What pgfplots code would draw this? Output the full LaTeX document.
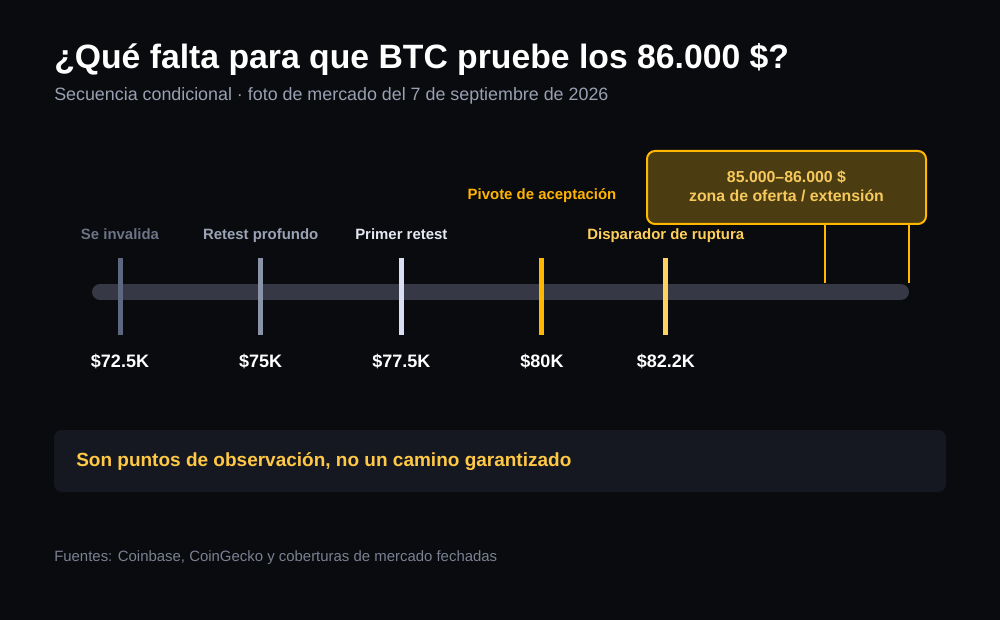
\documentclass[border=0pt]{standalone}
\usepackage{pgfplots}
\pgfplotsset{compat=1.18}
\usepackage{fontspec}
\setmainfont{Liberation Sans}
\definecolor{bg}{HTML}{0A0B0E}
\definecolor{panel}{HTML}{161821}
\definecolor{track}{HTML}{363945}
\definecolor{lvA}{HTML}{5E6780}
\definecolor{lvB}{HTML}{8A93A8}
\definecolor{lvC}{HTML}{D9DEF2}
\definecolor{lvD}{HTML}{FFB700}
\definecolor{lvE}{HTML}{FFD25E}
\definecolor{labA}{HTML}{6B7386}
\definecolor{labB}{HTML}{9AA2B5}
\definecolor{labC}{HTML}{E6E9F3}
\definecolor{labD}{HTML}{FFB400}
\definecolor{labE}{HTML}{FFCF5C}
\definecolor{zonefill}{HTML}{4B3C12}
\definecolor{zonetext}{HTML}{F7C95C}
\definecolor{calltext}{HTML}{FFC845}
\definecolor{subt}{HTML}{98A0B2}
\definecolor{foot}{HTML}{7A8192}
\newcommand{\fpx}[1]{\fontsize{#1}{#1}\selectfont}
\begin{document}
\begin{tikzpicture}[x=0.75pt,y=-0.75pt]
% background
\fill[bg] (0,0) rectangle (1000,620);
% title & subtitle
\node[anchor=base west,inner sep=0,text=white] at (54,69) {\fpx{25.3pt}\bfseries ¿Qué falta para que BTC pruebe los 86.000 \$?};
\node[anchor=base west,inner sep=0,text=subt] at (54,100.5) {\fpx{13.4pt}Secuencia condicional · foto de mercado del 7 de septiembre de 2026};
% zone box
\draw[lvD,line width=1.5pt,fill=zonefill,rounded corners=6pt] (647,151) rectangle (926,224);
\node[anchor=base,inner sep=0,text=zonetext] at (786.5,183) {\fpx{11.9pt}\bfseries 85.000–86.000 \$};
\node[anchor=base,inner sep=0,text=zonetext] at (786.5,202) {\fpx{11.9pt}\bfseries zona de oferta / extensión};
% callout panel
\fill[panel,rounded corners=6pt] (54,430) rectangle (946,492);
\node[anchor=base west,inner sep=0,text=calltext] at (76,466.5) {\fpx{14.25pt}\bfseries Son puntos de observación, no un camino garantizado};
% footer
\node[anchor=base west,inner sep=0,text=foot] at (54,561) {\fpx{11.2pt}Fuentes: Coinbase, CoinGecko y coberturas de mercado fechadas};
\begin{axis}[
  at={(0,0)}, anchor=north west,
  scale only axis, width=750pt, height=465pt,
  xmin=70.3673, xmax=88.140, ymin=0, ymax=620,
  y dir=reverse, hide axis, clip=false,
]
% track
\addplot[track,line width=12pt,line cap=round] coordinates {(72.145,292) (86.38,292)};
% zone connectors
\addplot[lvD,line width=1.5pt] coordinates {(85.03,224) (85.03,283)};
\addplot[lvD,line width=1.5pt] coordinates {(86.52,224) (86.52,283)};
% level ticks
\addplot[lvA,line width=3.75pt] coordinates {(72.5,258) (72.5,335)};
\addplot[lvB,line width=3.75pt] coordinates {(75,258) (75,335)};
\addplot[lvC,line width=3.75pt] coordinates {(77.5,258) (77.5,335)};
\addplot[lvD,line width=3.75pt] coordinates {(80,258) (80,335)};
\addplot[lvE,line width=3.75pt] coordinates {(82.2,258) (82.2,335)};
% level labels
\node[anchor=base,inner sep=0,text=labA] at (axis cs:72.5,239) {\fpx{11.2pt}\bfseries Se invalida};
\node[anchor=base,inner sep=0,text=labB] at (axis cs:75,239) {\fpx{11.2pt}\bfseries Retest profundo};
\node[anchor=base,inner sep=0,text=labC] at (axis cs:77.5,239) {\fpx{11.2pt}\bfseries Primer retest};
\node[anchor=base,inner sep=0,text=labD] at (axis cs:80,199) {\fpx{11.2pt}\bfseries Pivote de aceptación};
\node[anchor=base,inner sep=0,text=labE] at (axis cs:82.2,239) {\fpx{11.2pt}\bfseries Disparador de ruptura};
% price labels
\node[anchor=base,inner sep=0,text=white] at (axis cs:72.5,367.5) {\fpx{13.5pt}\bfseries \$72.5K};
\node[anchor=base,inner sep=0,text=white] at (axis cs:75,367.5) {\fpx{13.5pt}\bfseries \$75K};
\node[anchor=base,inner sep=0,text=white] at (axis cs:77.5,367.5) {\fpx{13.5pt}\bfseries \$77.5K};
\node[anchor=base,inner sep=0,text=white] at (axis cs:80,367.5) {\fpx{13.5pt}\bfseries \$80K};
\node[anchor=base,inner sep=0,text=white] at (axis cs:82.2,367.5) {\fpx{13.5pt}\bfseries \$82.2K};
\end{axis}
\end{tikzpicture}
\end{document}
